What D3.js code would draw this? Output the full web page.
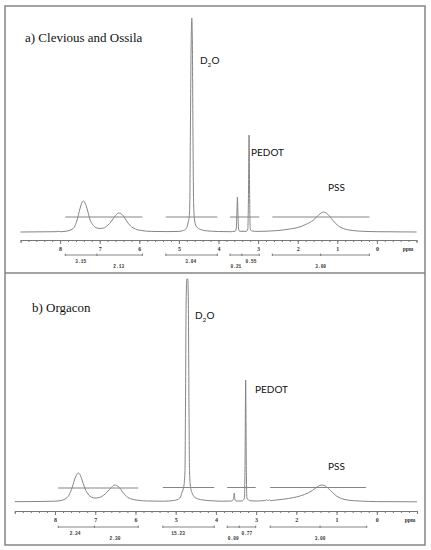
<!DOCTYPE html>
<html>
<head>
<meta charset="utf-8">
<script src="https://cdn.jsdelivr.net/npm/d3@7"></script>
<style>
  body { margin: 0; background: #fff; }
  svg { display: block; }
</style>
</head>
<body>
<svg id="chart"></svg>
<script>
// ppm axis
var ppmTicks = [8, 7, 6, 5, 4, 3, 2, 1, 0];

// spectrum a) Clevious and Ossila : [ppm, intensity]
var specA = [
  [9.0, 0], [8.4, 0.2], [8.1, 0.3], [8.05, 0.8], [8.0, 0.3], [7.85, 0.8], [7.75, 1.8],
  [7.65, 4.5], [7.57, 12], [7.5, 23], [7.44, 30], [7.41, 31], [7.37, 29], [7.31, 22],
  [7.25, 13], [7.18, 7.5], [7.1, 4.5], [7.0, 3.5], [6.9, 4], [6.8, 6.5], [6.7, 11],
  [6.6, 16.5], [6.52, 19], [6.47, 18.5], [6.4, 16], [6.32, 11], [6.22, 6], [6.1, 3],
  [5.95, 1.5], [5.7, 0.6], [5.3, 0.4], [5.0, 0.6], [4.88, 1.6], [4.8, 4.5], [4.76, 11],
  [4.74, 15], [4.725, 28], [4.71, 100], [4.69, 190], [4.674, 214], [4.66, 190],
  [4.645, 100], [4.628, 28], [4.6, 11], [4.55, 5], [4.45, 2.5], [4.3, 1.2], [4.0, 0.5],
  [3.7, 0.3], [3.58, 0.8], [3.55, 4], [3.535, 20], [3.522, 35], [3.51, 20], [3.495, 4],
  [3.47, 0.8], [3.3, 0.6], [3.26, 3], [3.245, 30], [3.228, 97], [3.212, 30], [3.198, 3],
  [3.15, 1], [3.0, 0.6], [2.8, 0.8], [2.5, 1.5], [2.2, 3], [2.0, 4.5], [1.8, 7.5],
  [1.6, 12], [1.47, 17], [1.35, 20], [1.28, 19], [1.2, 16], [1.1, 11], [1.0, 7],
  [0.88, 4], [0.7, 2], [0.4, 0.8], [0.0, 0.3], [-1.0, 0]
];

// spectrum b) Orgacon : [ppm, intensity]
var specB = [
  [9.0, 0.3], [8.4, 0.5], [8.0, 0.8], [7.85, 1.5], [7.75, 3], [7.65, 7], [7.57, 15],
  [7.5, 24], [7.45, 28], [7.42, 29], [7.38, 27.5], [7.32, 21], [7.25, 13], [7.18, 8],
  [7.1, 5], [7.0, 4], [6.9, 4.5], [6.8, 6.5], [6.7, 10], [6.6, 14.5], [6.52, 17],
  [6.47, 16.5], [6.4, 14.5], [6.32, 10], [6.22, 5.5], [6.1, 3], [5.95, 1.8], [5.7, 1],
  [5.3, 0.8], [5.05, 1.5], [4.95, 2.5], [4.88, 5], [4.84, 10], [4.8, 15], [4.77, 30],
  [4.755, 100], [4.74, 200], [4.722, 223], [4.7, 223], [4.685, 200], [4.67, 100],
  [4.655, 30], [4.63, 15], [4.58, 8], [4.5, 4], [4.35, 2.2], [4.1, 1.2], [3.8, 0.8],
  [3.6, 1], [3.565, 3], [3.545, 9], [3.53, 3], [3.5, 1], [3.35, 1], [3.29, 4],
  [3.275, 40], [3.26, 122], [3.245, 40], [3.23, 4], [3.15, 1.2], [3.0, 1], [2.78, 1.4],
  [2.74, 2.3], [2.71, 1.3], [2.68, 2.2], [2.64, 1.4], [2.5, 2], [2.2, 3.5], [2.0, 5],
  [1.8, 7.5], [1.6, 11.5], [1.47, 15.5], [1.36, 17], [1.28, 16], [1.2, 13.5],
  [1.1, 9.5], [1.0, 6], [0.88, 3.5], [0.7, 1.8], [0.4, 0.9], [0.0, 0.4], [-1.0, 0.2]
];

// integral segments : [ppm start, ppm end, level]
var integA = [[7.87, 7.07, 15], [7.07, 5.92, 15], [5.33, 4.03, 15], [3.71, 2.97, 15], [2.64, 0.19, 15]];
var integB = [[7.92, 7.02, 14], [7.02, 5.93, 14], [5.32, 4.04, 14.5], [3.72, 3.01, 14.5], [2.65, 0.27, 14.5]];

// integration brackets : [ppm start, ppm end, divider]
var bracketA = [[7.87, 5.92, 7.07], [5.33, 4.03, null], [3.71, 2.97, 3.41], [2.64, 0.19, 1.42]];
var bracketB = [[7.92, 5.93, 7.02], [5.32, 4.04, null], [3.72, 3.01, 3.42], [2.65, 0.25, 1.41]];

// integral values
var intLabelsA = ["3.15", "2.13", "3.04", "0.21", "0.55", "3.00"];
var intPpmA = [7.48, 6.52, 4.70, 3.56, 3.18, 1.42];
var intRowA = [0, 1, 0, 1, 0, 1];
var intLabelsB = ["2.34", "2.30", "15.23", "0.09", "0.77", "3.00"];
var intPpmB = [7.50, 6.51, 4.94, 3.57, 3.23, 1.41];
var intRowB = [0, 1, 0, 1, 0, 1];

var W = 431, H = 550;
var svg = d3.select('#chart').attr('width', W).attr('height', H);

var grey = '#858585';

// frame
svg.append('rect')
  .attr('x', 5).attr('y', 6).attr('width', 420).attr('height', 539)
  .attr('fill', 'none').attr('stroke', grey).attr('stroke-width', 1.5);
svg.append('line')
  .attr('x1', 5).attr('x2', 425).attr('y1', 273).attr('y2', 273)
  .attr('stroke', grey).attr('stroke-width', 1.5);

var panels = [
  {
    title: 'a) Clevious and Ossila', titleX: 25, titleY: 42,
    spec: specA, integ: integA, brackets: bracketA,
    labels: intLabelsA, labelPpm: intPpmA, labelRow: intRowA,
    xRange: [20.5, 416.5], base: 232, axisY: 240, bracketY: 255,
    ppmX: 408,
    names: [['D2O', 200, 64], ['PEDOT', 251, 156], ['PSS', 328, 191]]
  },
  {
    title: 'b) Orgacon', titleX: 32, titleY: 312,
    spec: specB, integ: integB, brackets: bracketB,
    labels: intLabelsB, labelPpm: intPpmB, labelRow: intRowB,
    xRange: [14.8, 417], base: 502, axisY: 511, bracketY: 527,
    ppmX: 410,
    names: [['D2O', 195, 319], ['PEDOT', 255, 393], ['PSS', 328, 470]]
  }
];

panels.forEach(function (p) {
  var g = svg.append('g');
  var x = d3.scaleLinear().domain([9, -1]).range(p.xRange);
  var y = d3.scaleLinear().domain([0, 100]).range([p.base, p.base - 100]);

  // title
  g.append('text')
    .attr('x', p.titleX).attr('y', p.titleY)
    .attr('font-family', '"Liberation Serif", serif')
    .attr('font-size', 13)
    .attr('fill', '#111')
    .text(p.title);

  // integral lines
  g.selectAll('line.integ')
    .data(p.integ)
    .enter()
    .append('line')
    .attr('x1', function (d) { return x(d[0]); })
    .attr('x2', function (d) { return x(d[1]); })
    .attr('y1', function (d) { return y(d[2]); })
    .attr('y2', function (d) { return y(d[2]); })
    .attr('stroke', grey).attr('stroke-width', 1);

  // spectrum
  var line = d3.line()
    .x(function (d) { return x(d[0]); })
    .y(function (d) { return y(d[1]); })
    .curve(d3.curveMonotoneX);
  g.append('path')
    .datum(p.spec)
    .attr('d', line)
    .attr('fill', 'none')
    .attr('stroke', grey)
    .attr('stroke-width', 1);

  // minor ticks
  g.append('g')
    .attr('transform', 'translate(0,' + p.axisY + ')')
    .call(d3.axisBottom(x)
      .tickValues(d3.range(-10, 91, 2).map(function (v) { return v / 10; }))
      .tickSize(2).tickSizeOuter(3).tickFormat(''))
    .call(function (a) {
      a.selectAll('path, line').attr('stroke', '#777');
    });

  // major ticks + labels
  g.append('g')
    .attr('transform', 'translate(0,' + p.axisY + ')')
    .call(d3.axisBottom(x).tickValues(ppmTicks).tickSize(4).tickSizeOuter(0).tickPadding(3))
    .call(function (a) {
      a.select('.domain').remove();
      a.selectAll('line').attr('stroke', '#777');
      a.selectAll('text')
        .attr('font-family', '"Liberation Serif", serif')
        .attr('font-weight', 'bold')
        .attr('font-size', 6)
        .attr('fill', '#333');
    });

  g.append('text')
    .attr('x', p.ppmX).attr('y', p.axisY + 11)
    .attr('text-anchor', 'middle')
    .attr('font-family', '"Liberation Serif", serif')
    .attr('font-weight', 'bold')
    .attr('font-size', 5.5)
    .attr('fill', '#333')
    .text('ppm');

  // brackets
  var br = g.selectAll('g.br')
    .data(p.brackets)
    .enter()
    .append('g');
  br.append('line')
    .attr('x1', function (d) { return x(d[0]); })
    .attr('x2', function (d) { return x(d[1]); })
    .attr('y1', p.bracketY).attr('y2', p.bracketY)
    .attr('stroke', '#666').attr('stroke-width', 0.8);
  br.each(function (d) {
    var marks = [d[0], d[1]];
    if (d[2] !== null) marks.push(d[2]);
    d3.select(this).selectAll('line.m')
      .data(marks)
      .enter()
      .append('line')
      .attr('x1', function (m) { return x(m); })
      .attr('x2', function (m) { return x(m); })
      .attr('y1', p.bracketY - 1.5).attr('y2', p.bracketY + 1)
      .attr('stroke', '#666').attr('stroke-width', 0.8);
  });

  // integral values
  g.selectAll('text.iv')
    .data(p.labels)
    .enter()
    .append('text')
    .attr('x', function (d, i) { return x(p.labelPpm[i]); })
    .attr('y', function (d, i) { return p.bracketY + 7.5 + p.labelRow[i] * 5.5; })
    .attr('text-anchor', 'middle')
    .attr('font-family', '"Liberation Mono", monospace')
    .attr('font-weight', 'bold')
    .attr('font-size', 4.5)
    .attr('fill', '#333')
    .text(function (d) { return d; });

  // peak names
  p.names.forEach(function (n) {
    var t = g.append('text')
      .attr('x', n[1]).attr('y', n[2])
      .attr('font-family', 'Lato, "Open Sans", sans-serif')
      .attr('font-size', 10)
      .attr('fill', '#111');
    if (n[0] === 'D2O') {
      t.append('tspan').text('D');
      t.append('tspan').attr('dy', 2.5).attr('font-size', 6.5).text('2');
      t.append('tspan').attr('dy', -2.5).text('O');
    } else {
      t.text(n[0]);
    }
  });
});
</script>
</body>
</html>
